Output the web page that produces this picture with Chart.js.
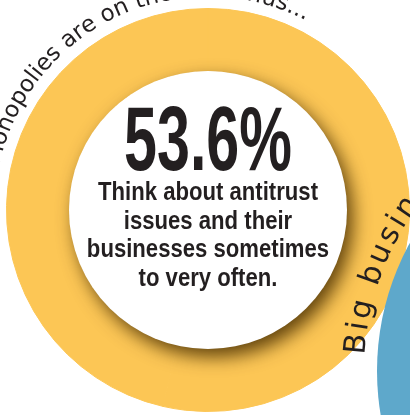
<!DOCTYPE html>
<html>
<head>
<meta charset="utf-8">
<script src="https://cdn.jsdelivr.net/npm/chart.js@4/dist/chart.umd.min.js"></script>
<style>
  html, body { margin: 0; padding: 0; background: #fff; }
  #wrap { width: 410px; height: 415px; position: relative; overflow: hidden; }
</style>
</head>
<body>
<div id="wrap"><canvas id="ringChart"></canvas></div>
<script>
const segmentLabels = ['Sometimes to very often', 'Rarely or never'];
const segmentValues = [53.6, 46.4];
const segmentColors = ['#fcc655', '#fcc655'];
const headline = '53.6%';
const captionLines = ['Think about antitrust', 'issues and their', 'businesses sometimes', 'to very often.'];
const topArcText = 'Monopolies are on the rise, thus...';
const sideArcText = 'Big business is...';

const ink = '#231f20';
const handFont = '"DejaVu Sans"';
const blueDot = { x: 643, y: 371, r: 266, color: '#5ea8cb' };

// write text clockwise along a circle, letter tops facing outward
function arcText(ctx, text, cx, cy, r, startDeg, spacing) {
  let a = startDeg * Math.PI / 180;
  for (const ch of text) {
    const w = ctx.measureText(ch).width + spacing;
    const mid = a + w / 2 / r;
    ctx.save();
    ctx.translate(cx + r * Math.cos(mid), cy + r * Math.sin(mid));
    ctx.rotate(mid + Math.PI / 2);
    ctx.fillText(ch, 0, 0);
    ctx.restore();
    a += w / r;
  }
}

const overlay = {
  id: 'overlay',
  afterDraw(chart) {
    const ctx = chart.ctx;
    const arc = chart.getDatasetMeta(0).data[0];
    const cx = arc.x, cy = arc.y;
    const inner = arc.innerRadius, outer = arc.outerRadius;

    // white disc casting a soft shadow on the ring
    ctx.save();
    ctx.beginPath();
    ctx.arc(cx, cy, inner, 0, Math.PI * 2);
    ctx.shadowColor = 'rgba(70,45,0,0.85)';
    ctx.shadowBlur = 18;
    ctx.shadowOffsetX = 6;
    ctx.shadowOffsetY = 8;
    ctx.fillStyle = '#fff';
    ctx.fill();
    ctx.restore();

    ctx.save();
    ctx.fillStyle = ink;
    ctx.textAlign = 'center';
    ctx.textBaseline = 'alphabetic';

    // big number, condensed
    ctx.font = 'bold 90px "Liberation Sans"';
    let sx = 168 / ctx.measureText(headline).width;
    ctx.save();
    ctx.translate(cx, cy - 40);
    ctx.scale(sx, 1);
    ctx.fillText(headline, 0, 0);
    ctx.restore();

    // caption lines
    ctx.font = 'bold 25px "Liberation Sans"';
    sx = 220 / ctx.measureText(captionLines[0]).width;
    captionLines.forEach((line, i) => {
      ctx.save();
      ctx.translate(cx, cy - 10 + i * 28.5);
      ctx.scale(sx, 1);
      ctx.fillText(line, 0, 0);
      ctx.restore();
    });

    // handwritten notes: one round the ring, one round the blue dot
    ctx.font = '23px ' + handFont;
    arcText(ctx, topArcText, cx, cy, outer + 12, -168, 0);
    ctx.font = '30px ' + handFont;
    arcText(ctx, sideArcText, blueDot.x, blueDot.y, blueDot.r + 13, -177, 3);
    ctx.restore();

    // blue dot at the lower right
    ctx.save();
    ctx.beginPath();
    ctx.arc(blueDot.x, blueDot.y, blueDot.r, 0, Math.PI * 2);
    ctx.fillStyle = blueDot.color;
    ctx.fill();
    ctx.restore();
  }
};

new Chart(document.getElementById('ringChart'), {
  type: 'doughnut',
  data: {
    labels: segmentLabels,
    datasets: [{
      data: segmentValues,
      backgroundColor: segmentColors,
      borderColor: segmentColors,
      borderWidth: 1
    }]
  },
  options: {
    responsive: true,
    maintainAspectRatio: false,
    animation: false,
    cutout: 139,
    layout: { padding: { left: 6, right: 0, top: 8, bottom: 3 } },
    plugins: {
      legend: { display: false },
      tooltip: { enabled: false }
    }
  },
  plugins: [overlay]
});
</script>
</body>
</html>
